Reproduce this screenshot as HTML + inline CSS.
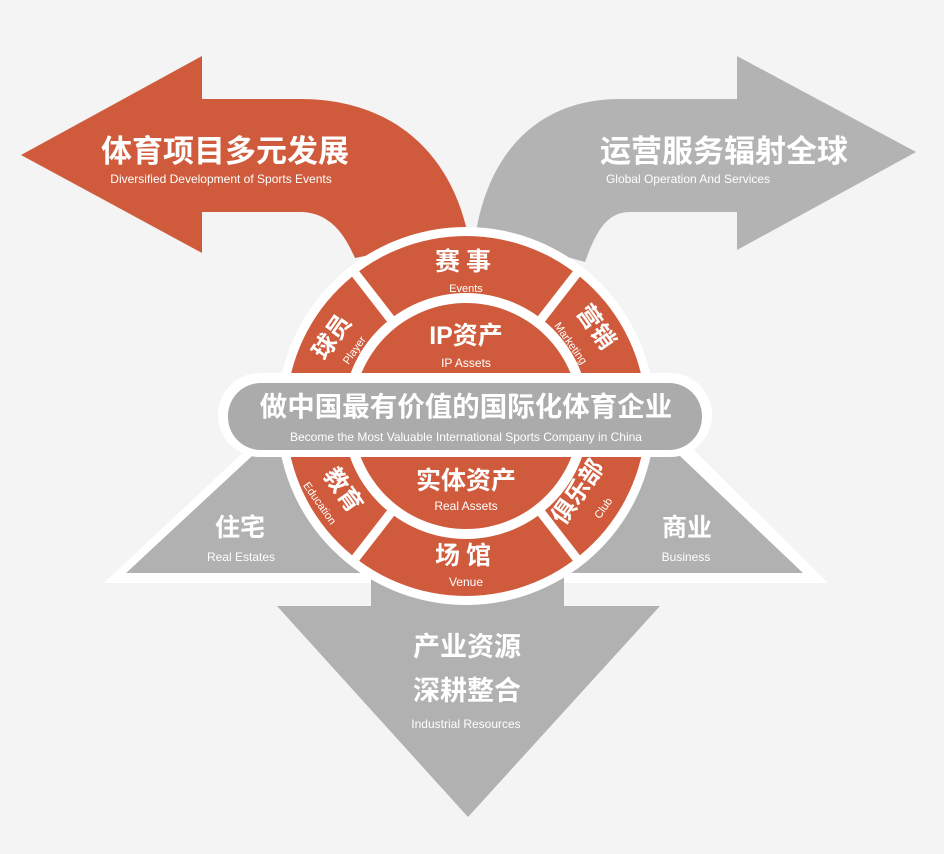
<!DOCTYPE html>
<html><head><meta charset="utf-8"><style>
html,body{margin:0;padding:0;background:#f4f4f4;}
svg{display:block}
text{font-family:"Liberation Sans","Noto Sans CJK SC",sans-serif;fill:#fff}
.cn{font-weight:bold}
</style></head><body>
<svg width="944" height="854" viewBox="0 0 944 854" xmlns="http://www.w3.org/2000/svg">
<rect width="944" height="854" fill="#f4f4f4"/>
<path d="M21,155 L202,56 L202,99 L300,99 C390,99 450,150 468,235 L355,258 C345,235 330,212 300,212 L202,212 L202,253 Z" fill="#cf5b3c"/>
<path d="M916,152 L737,56 L737,99 L620,99 C540,99 490,150 476,232 L585,262 C595,235 605,212 630,212 L737,212 L737,250 Z" fill="#b3b3b3"/>
<path d="M104,583 L250,446 L690,446 L828,583 Z" fill="#ffffff"/>
<path d="M126,573 L252,456 L380,456 L380,573 Z" fill="#b1b1b1"/>
<path d="M803,573 L680,456 L560,456 L560,573 Z" fill="#b1b1b1"/>
<path d="M371,560 L564,560 L564,606 L660,606 L468,817 L277,606 L371,606 Z" fill="#b1b1b1"/>
<circle cx="466" cy="416" r="189" fill="#fff"/>
<circle cx="466" cy="416" r="180" fill="#cf5b3c"/>
<g stroke="#fff" stroke-width="9">
<line x1="466" y1="416" x2="351" y2="268"/>
<line x1="466" y1="416" x2="581" y2="268"/>
<line x1="466" y1="416" x2="351" y2="564"/>
<line x1="466" y1="416" x2="581" y2="564"/>
</g>
<circle cx="466" cy="416" r="123" fill="#fff"/>
<circle cx="466" cy="416" r="113" fill="#cf5b3c"/>
<rect x="218" y="373" width="494" height="84" rx="42" fill="#fff"/>
<rect x="228" y="383" width="474" height="67" rx="33" fill="#ababab"/>
<text x="225" y="162" class="cn" font-size="31" text-anchor="middle">体育项目多元发展</text>
<text x="221" y="183" font-size="12" text-anchor="middle">Diversified Development of Sports Events</text>
<text x="724" y="162" class="cn" font-size="31" text-anchor="middle">运营服务辐射全球</text>
<text x="688" y="183" font-size="12" text-anchor="middle">Global Operation And Services</text>
<text x="466" y="270" class="cn" font-size="25" text-anchor="middle" letter-spacing="6">赛事</text>
<text x="466" y="292" font-size="11" text-anchor="middle">Events</text>
<text x="466" y="344" class="cn" font-size="25" text-anchor="middle">IP资产</text>
<text x="466" y="367" font-size="12" text-anchor="middle">IP Assets</text>
<text x="466" y="416" class="cn" font-size="27.5" text-anchor="middle">做中国最有价值的国际化体育企业</text>
<text x="466" y="441" font-size="12" text-anchor="middle">Become the Most Valuable International Sports Company in China</text>
<text x="466" y="489" class="cn" font-size="25" text-anchor="middle">实体资产</text>
<text x="466" y="510" font-size="12" text-anchor="middle">Real Assets</text>
<text x="466" y="564" class="cn" font-size="25" text-anchor="middle" letter-spacing="6">场馆</text>
<text x="466" y="586" font-size="12" text-anchor="middle">Venue</text>
<g transform="translate(332,337) rotate(-55)"><text class="cn" font-size="24" text-anchor="middle" y="8">球员</text></g>
<g transform="translate(354,350) rotate(-55)"><text font-size="11" text-anchor="middle" y="4">Player</text></g>
<g transform="translate(596,327) rotate(55)"><text class="cn" font-size="24" text-anchor="middle" y="8">营销</text></g>
<g transform="translate(571,343) rotate(55)"><text font-size="11" text-anchor="middle" y="4">Marketing</text></g>
<g transform="translate(343,490) rotate(55)"><text class="cn" font-size="24" text-anchor="middle" y="8">教育</text></g>
<g transform="translate(320,503) rotate(55)"><text font-size="11" text-anchor="middle" y="4">Education</text></g>
<g transform="translate(578,492) rotate(-55)"><text class="cn" font-size="24" text-anchor="middle" y="8">俱乐部</text></g>
<g transform="translate(603,508) rotate(-55)"><text font-size="11" text-anchor="middle" y="4">Club</text></g>
<text x="240" y="536" class="cn" font-size="25" text-anchor="middle">住宅</text>
<text x="241" y="561" font-size="12" text-anchor="middle">Real Estates</text>
<text x="687" y="536" class="cn" font-size="25" text-anchor="middle">商业</text>
<text x="686" y="561" font-size="12" text-anchor="middle">Business</text>
<text x="467" y="656" class="cn" font-size="27" text-anchor="middle">产业资源</text>
<text x="467" y="700" class="cn" font-size="27" text-anchor="middle">深耕整合</text>
<text x="466" y="728" font-size="12" text-anchor="middle">Industrial Resources</text>
</svg>
</body></html>
